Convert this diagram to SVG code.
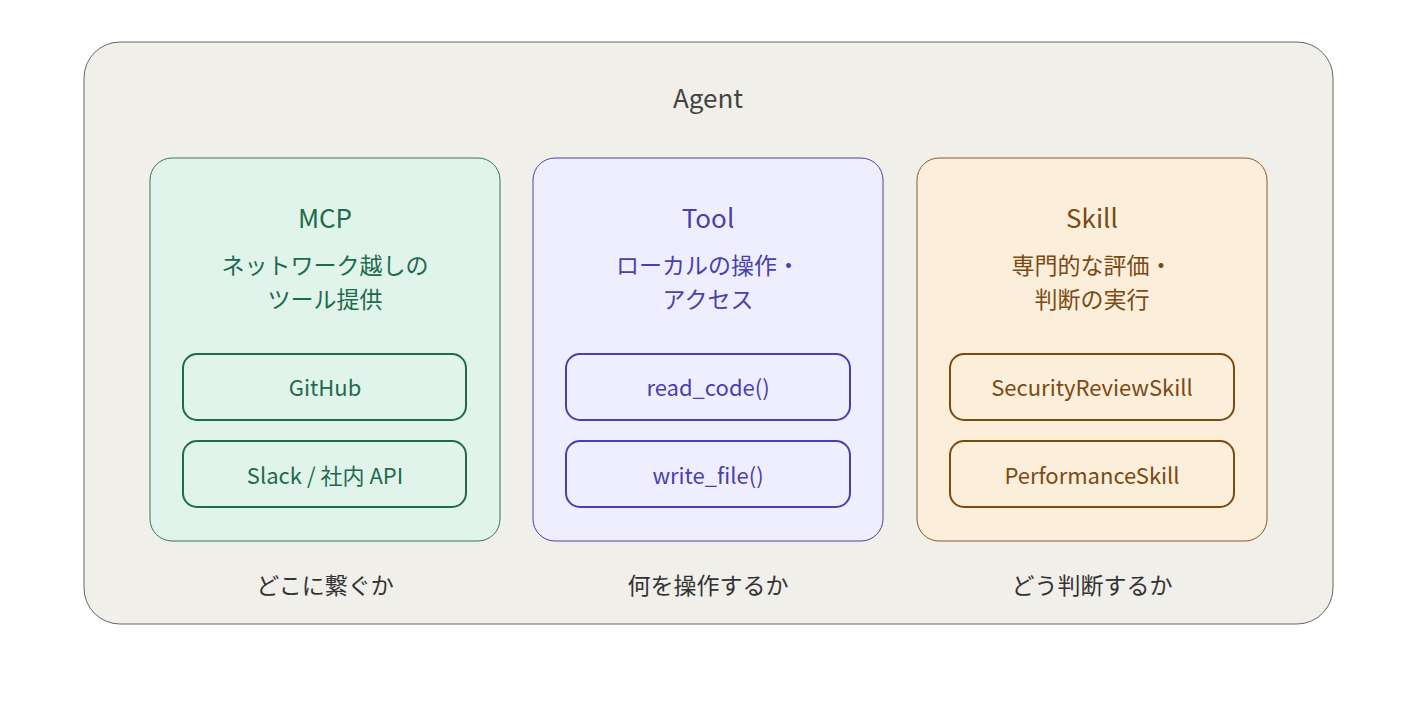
<svg xmlns="http://www.w3.org/2000/svg" width="1417" height="708" viewBox="0 0 1417 708">
<style>
text{font-family:"Noto Sans CJK JP","Noto Sans",sans-serif;text-anchor:middle}
.t{font-size:26px}.s{font-size:23px}.i{font-size:22px}.b{font-size:23px;fill:#333}
.g{fill:#1e6b4c}.p{fill:#4a3fb0}.o{fill:#7a4a12}
</style>
<rect width="1417" height="708" fill="#fff"/>
<g id="agent"><rect x="84" y="42" width="1249" height="582" rx="36" fill="#f1efea" stroke="#666" stroke-width="1"/>
<text x="708" y="108" class="t" fill="#444">Agent</text></g>
<g id="mcp"><rect x="150" y="158" width="350" height="383" rx="22" fill="#e1f4ec" stroke="#2d7a59" stroke-width="1"/>
<text x="325" y="228" class="t g">MCP</text>
<text x="325" y="274" class="s g">ネットワーク越しの</text><text x="325" y="308" class="s g">ツール提供</text>
<rect x="183" y="354" width="283" height="66" rx="14" fill="none" stroke="#1e6b4c" stroke-width="2"/><text x="325" y="396" class="i g">GitHub</text>
<rect x="183" y="441" width="283" height="66" rx="14" fill="none" stroke="#1e6b4c" stroke-width="2"/><text x="325" y="484" class="i g">Slack / 社内  API</text></g>
<g id="tool"><rect x="533" y="158" width="350" height="383" rx="22" fill="#efeefe" stroke="#4a3fb0" stroke-width="1"/>
<text x="708" y="228" class="t p">Tool</text>
<text x="708" y="274" class="s p">ローカルの操作・</text><text x="708" y="308" class="s p">アクセス</text>
<rect x="566" y="354" width="284" height="66" rx="14" fill="none" stroke="#4a3fb0" stroke-width="2"/><text x="708" y="396" class="i p">read_code()</text>
<rect x="566" y="441" width="284" height="66" rx="14" fill="none" stroke="#4a3fb0" stroke-width="2"/><text x="708" y="484" class="i p">write_file()</text></g>
<g id="skill"><rect x="917" y="158" width="350" height="383" rx="22" fill="#fbeedb" stroke="#8a5a20" stroke-width="1"/>
<text x="1092" y="228" class="t o">Skill</text>
<text x="1092" y="274" class="s o">専門的な評価・</text><text x="1092" y="308" class="s o">判断の実行</text>
<rect x="950" y="354" width="284" height="66" rx="14" fill="none" stroke="#7a4a12" stroke-width="2"/><text x="1092" y="396" class="i o">SecurityReviewSkill</text>
<rect x="950" y="441" width="284" height="66" rx="14" fill="none" stroke="#7a4a12" stroke-width="2"/><text x="1092" y="484" class="i o">PerformanceSkill</text></g>
<g id="labels"><text x="325" y="594" class="b">どこに繋ぐか</text><text x="708" y="594" class="b">何を操作するか</text><text x="1092" y="594" class="b">どう判断するか</text></g>
<g id="connectors"/>
</svg>
